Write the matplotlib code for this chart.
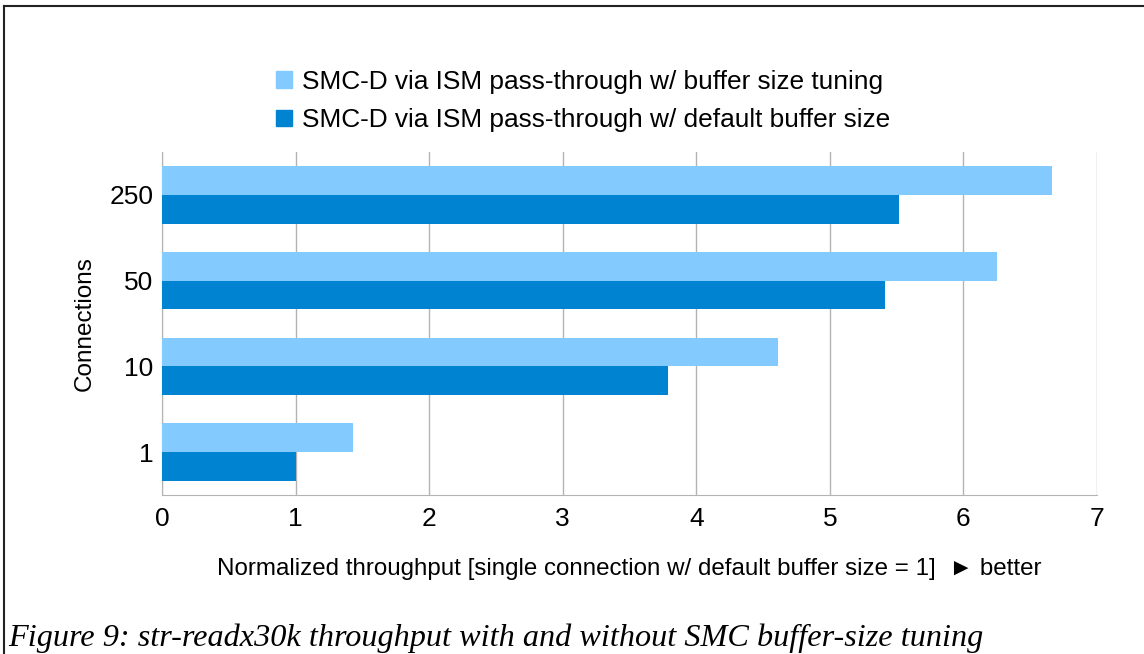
import matplotlib
matplotlib.use("Agg")
import matplotlib.pyplot as plt
from matplotlib.lines import Line2D
from matplotlib.patches import Rectangle
import numpy as np

categories = ["1", "10", "50", "250"]
tuned = [1.43, 4.61, 6.25, 6.66]
default = [1.00, 3.79, 5.41, 5.52]
series_names = ["SMC-D via ISM pass-through w/ buffer size tuning",
                "SMC-D via ISM pass-through w/ default buffer size"]
xticks = [0, 1, 2, 3, 4, 5, 6, 7]
xlabel = "Normalized throughput [single connection w/ default buffer size = 1]  \u25BA better"
ylabel = "Connections"
caption = "Figure 9: str-readx30k throughput with and without SMC buffer-size tuning"

LIGHT = "#83CAFF"
DARK = "#0084D1"
W, H = 1144, 654

plt.rcParams['font.family'] = ['Liberation Sans', 'DejaVu Sans']
fig = plt.figure(figsize=(W / 100, H / 100), dpi=100)
ax = fig.add_axes([162 / W, 1 - 495 / H, (1097 - 162) / W, (495 - 152) / H])

y = np.arange(len(categories))
bh = 0.335
ax.barh(y + bh / 2, tuned, height=bh, color=LIGHT, zorder=3)
ax.barh(y - bh / 2, default, height=bh, color=DARK, zorder=3)

ax.set_xlim(0, 7)
ax.set_ylim(-0.5, len(categories) - 0.5)
ax.set_xticks(xticks)
ax.set_xticklabels([str(t) for t in xticks], fontsize=19)
ax.set_yticks(y)
ax.set_yticklabels(categories, fontsize=19)
ax.tick_params(axis='y', length=0, pad=6)
ax.tick_params(axis='x', length=0, pad=9)
ax.grid(axis='x', color='#b3b3b3', linewidth=1, zorder=0)
for s in ['top', 'right']:
    ax.spines[s].set_visible(False)
ax.spines['left'].set_color('#b3b3b3')
ax.spines['bottom'].set_color('#b3b3b3')
ax.set_ylabel(ylabel, fontsize=17.5, labelpad=10)
ax.set_xlabel(xlabel, fontsize=17.4, labelpad=19)

handles = [Rectangle((0, 0), 1, 1, color=LIGHT), Rectangle((0, 0), 1, 1, color=DARK)]
leg = fig.legend(handles, series_names, loc='center', bbox_to_anchor=(583 / W, 1 - 101 / H),
                 frameon=False, fontsize=18.9, handlelength=0.6, handleheight=0.6,
                 handletextpad=0.4, labelspacing=0.55)

fig.text(8 / W, 1 - 638 / H, caption, fontsize=23.2, family='Liberation Serif',
         style='italic', ha='left', va='center')

fig.add_artist(Line2D([4 / W, 4 / W], [0, 1 - 6 / H], color='#222222', lw=1.5))
fig.add_artist(Line2D([4 / W, 1], [1 - 6 / H, 1 - 6 / H], color='#222222', lw=1.5))

fig.savefig("out.png", dpi=100)
